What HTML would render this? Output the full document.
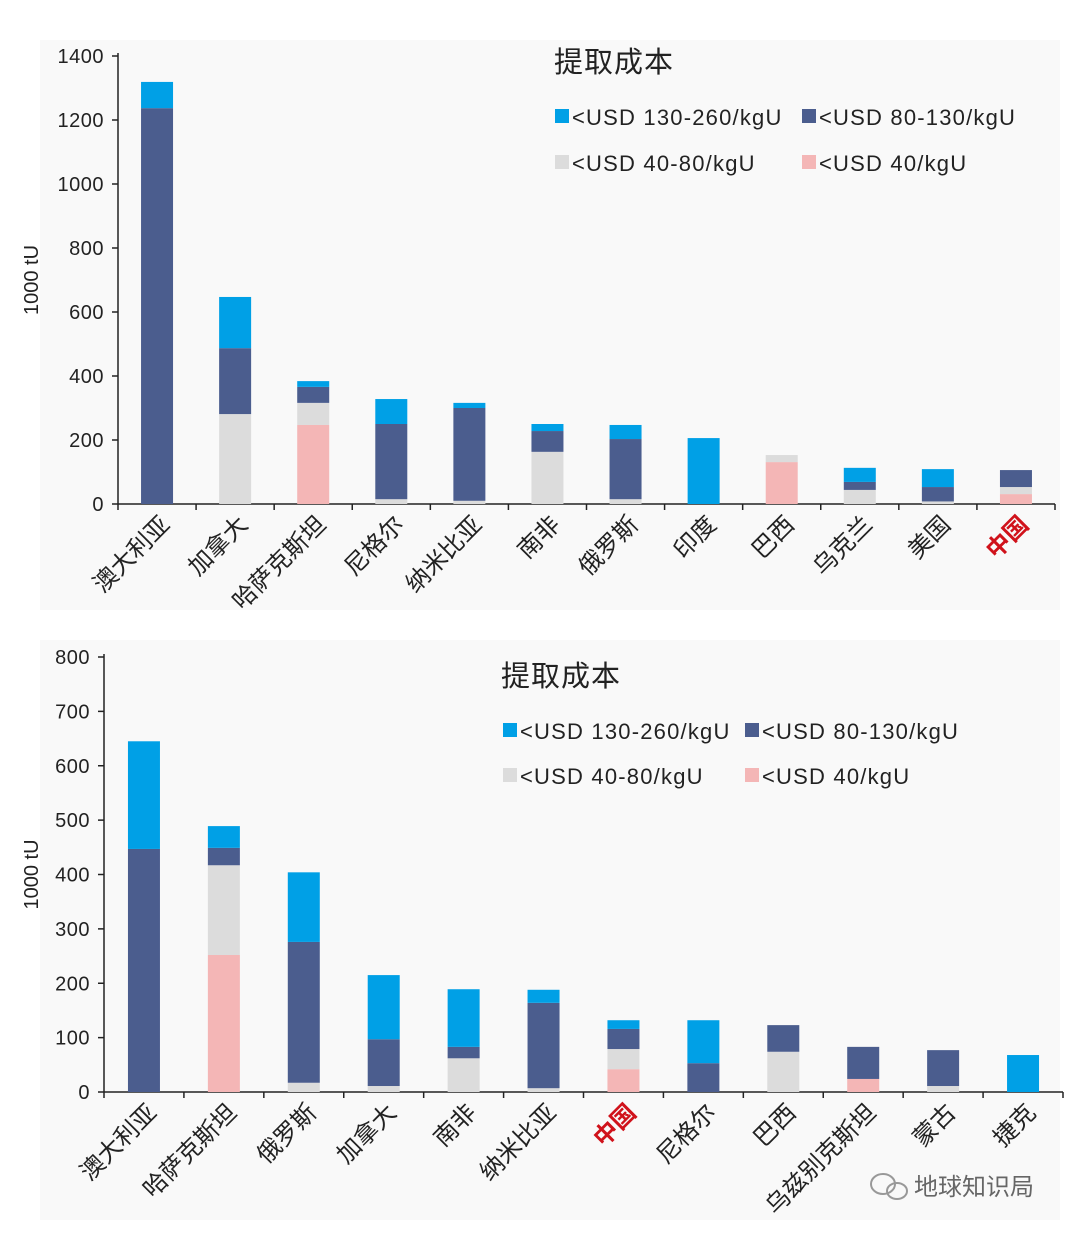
<!DOCTYPE html>
<html><head><meta charset="utf-8">
<style>
html,body{margin:0;padding:0;background:#fff;width:1080px;height:1233px;overflow:hidden}
svg{display:block;font-family:"Liberation Sans","Noto Sans CJK SC",sans-serif}
</style></head>
<body>
<svg id="svg" width="1080" height="1233" viewBox="0 0 1080 1233" xmlns="http://www.w3.org/2000/svg">
<rect x="40" y="40" width="1020" height="570" fill="#f9f9f9"/>
<rect x="40" y="640" width="1020" height="580" fill="#f9f9f9"/>
<g id="top"></g>
<g id="bot"></g>
<g>
<ellipse cx="883" cy="1184" rx="12" ry="10" fill="none" stroke="#999" stroke-width="2"/>
<ellipse cx="897" cy="1191" rx="10" ry="8" fill="none" stroke="#999" stroke-width="2"/>
<text x="914" y="1195" font-size="24" fill="#666">地球知识局</text>
</g>
</svg>
<script>
const colors=["#f4b6b6","#dcdcdc","#4b5d8e","#00a0e6"];
const legendLabels=["<USD 130-260/kgU","<USD 80-130/kgU","<USD 40-80/kgU","<USD 40/kgU"];

const topCats=["澳大利亚","加拿大","哈萨克斯坦","尼格尔","纳米比亚","南非","俄罗斯","印度","巴西","乌克兰","美国","中国"];
const topLt40=[0,0,247,0,0,0,0,0,131,0,0,31];
const top40_80=[0,281,69,15,10,163,15,0,22,44,8,22];
const top80_130=[1237,206,50,235,290,65,188,0,0,25,45,53];
const top130_260=[82,160,18,78,16,22,44,206,0,44,56,0];
const topTicks=[0,200,400,600,800,1000,1200,1400];

const botCats=["澳大利亚","哈萨克斯坦","俄罗斯","加拿大","南非","纳米比亚","中国","尼格尔","巴西","乌兹别克斯坦","蒙古","捷克"];
const botLt40=[0,252,0,0,0,0,42,0,0,24,0,0];
const bot40_80=[0,165,17,11,62,7,37,0,74,0,11,0];
const bot80_130=[447,32,259,86,21,157,37,53,49,59,66,0];
const bot130_260=[198,40,128,118,106,24,16,79,0,0,0,68];
const botTicks=[0,100,200,300,400,500,600,700,800];

const NS="http://www.w3.org/2000/svg";
function mk(parent,tag,attrs,txt){const e=document.createElementNS(NS,tag);for(const k in attrs)e.setAttribute(k,attrs[k]);if(txt!==undefined)e.textContent=txt;parent.appendChild(e);return e;}

function draw(g,cfg){
  const {x0,x1,y0,yTop,max,cats,series,ticks,titleX,titleY,legX,legX2,legY,legY2}=cfg;
  const y=v=>y0-(v/max)*(y0-yTop);
  const band=(x1-x0)/cats.length;
  const cx=i=>x0+band*(i+0.5);
  const bw=32;
  const ax=mk(g,'line',{x1:x0,y1:yTop-3,x2:x0,y2:y0,stroke:'#222','stroke-width':1.5});
  
  
  const bx=mk(g,'line',{x1:x0,y1:y0,x2:x1,y2:y0,stroke:'#222','stroke-width':1.5});
  
  
  ticks.forEach(t=>{
    mk(g,'line',{x1:x0-6,y1:y(t),x2:x0,y2:y(t),stroke:'#222','stroke-width':1.5});
    const tl=mk(g,'text',{x:x0-14,y:y(t)+7,'font-size':20,'text-anchor':'end',fill:'#222','letter-spacing':0.5},String(t));
    
    
  });
  for(let i=0;i<=cats.length;i++){mk(g,'line',{x1:x0+band*i,y1:y0,x2:x0+band*i,y2:y0+6,stroke:'#222','stroke-width':1.5});}
  const yt=mk(g,'text',{x:0,y:0,'font-size':20,'text-anchor':'middle',fill:'#222',transform:`translate(38,${(y0+yTop)/2}) rotate(-90)`},'1000 tU');
  
  
  cats.forEach((c,i)=>{
    let acc=0;
    series.forEach((s,k)=>{
      const v=s[i]; if(v<=0)return;
      const r=mk(g,'rect',{x:cx(i)-bw/2,y:y(acc+v),width:bw,height:y(acc)-y(acc+v),fill:colors[k]});
      
      
      acc+=v;
    });
    const red=c==="中国";
    const lbl=mk(g,'text',{x:0,y:0,'font-size':24,'text-anchor':'end',fill:red?'#d0121b':'#222','font-weight':red?'bold':'normal',transform:`translate(${cx(i)+14},${y0+22}) rotate(-45)`},c);
    
    
  });
  const tt=mk(g,'text',{x:titleX,y:titleY,'font-size':29,fill:'#222','letter-spacing':1},'提取成本');
  
  
  const pos=[[legX,legY,3],[legX2,legY,2],[legX,legY2,1],[legX2,legY2,0]];
  pos.forEach((p,j)=>{
    const le=mk(g,'g',{});
    
    
    mk(le,'rect',{x:p[0],y:p[1]-8,width:14,height:14,fill:colors[p[2]]});
    mk(le,'text',{x:p[0]+17,y:p[1]+8,'font-size':22,fill:'#222','letter-spacing':1.2},legendLabels[j]);
  });
}
draw(document.getElementById('top'),{x0:118,x1:1055,y0:504,yTop:56,max:1400,cats:topCats,
  series:[topLt40,top40_80,top80_130,top130_260],ticks:topTicks,titleX:554,titleY:72,legX:555,legX2:802,legY:117,legY2:163});
draw(document.getElementById('bot'),{x0:104,x1:1063,y0:1092,yTop:657,max:800,cats:botCats,
  series:[botLt40,bot40_80,bot80_130,bot130_260],ticks:botTicks,titleX:501,titleY:686,legX:503,legX2:745,legY:731,legY2:776});
</script>
</body></html>
